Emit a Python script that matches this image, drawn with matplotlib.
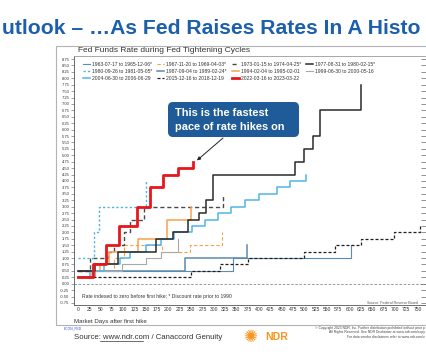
import matplotlib
matplotlib.use('Agg')
import numpy as np
import matplotlib.pyplot as plt
from matplotlib.patches import Rectangle, FancyBboxPatch
from matplotlib.lines import Line2D

plt.rcParams['font.family'] = ['Liberation Sans', 'DejaVu Sans']

# ---------------- data (market days after first hike, indexed rate) ----------------
labels = ["1963-07-17 to 1965-12-06*", "1967-11-20 to 1969-04-03*",
          "1973-01-15 to 1974-04-25*", "1977-08-31 to 1980-02-15*",
          "1980-09-26 to 1981-05-05*", "1987-09-04 to 1989-02-24*",
          "1994-02-04 to 1995-02-01", "1999-06-30 to 2000-05-16",
          "2004-06-30 to 2006-06-29", "2015-12-16 to 2018-12-19",
          "2022-03-16 to 2023-03-22"]

days_1963 = [0, 343, 604]
rate_1963 = [0.5, 1.0, 1.5]
days_1967 = [0, 80, 103, 186, 248, 318]
rate_1967 = [0.5, 1.0, 1.5, 1.25, 1.5, 2.0]
days_1973 = [0, 28, 67, 81, 102, 116, 146, 321]
rate_1973 = [0.5, 1.0, 1.25, 1.5, 2.0, 2.5, 3.0, 3.5]
days_1977 = [0, 39, 88, 173, 210, 244, 267, 284, 299, 479, 500, 520, 535, 625]
rate_1977 = [0.5, 0.75, 1.25, 1.75, 2.0, 2.5, 2.75, 3.25, 4.25, 4.75, 5.25, 5.75, 6.75, 7.75]
days_1980 = [0, 35, 48, 151]
rate_1980 = [1.0, 2.0, 3.0, 4.0]
days_1987 = [0, 236, 373]
rate_1987 = [0.5, 1.0, 1.5]
days_1994 = [0, 31, 49, 69, 133, 196, 250]
rate_1994 = [0.25, 0.5, 0.75, 1.25, 1.75, 2.5, 3.0]
days_1999 = [0, 38, 97, 150, 183, 222]
rate_1999 = [0.25, 0.5, 0.75, 1.0, 1.25, 1.75]
days_2004 = [0, 28, 57, 93, 116, 150, 183, 212, 253, 280, 309, 339, 368, 400, 439, 469, 504]
rate_2004 = [0.25, 0.5, 0.75, 1.0, 1.25, 1.5, 1.75, 2.0, 2.25, 2.5, 2.75, 3.0, 3.25,
             3.5, 3.75, 4.0, 4.25]
days_2015 = [0, 251, 313, 375, 500, 567, 625, 698, 755]
rate_2015 = [0.25, 0.5, 0.75, 1.0, 1.25, 1.5, 1.75, 2.0, 2.25]
days_2022 = [0, 34, 63, 91, 130, 160, 189, 221, 255]
rate_2022 = [0.25, 0.75, 1.5, 2.25, 3.0, 3.75, 4.25, 4.5, 4.75]

x_ticks = list(range(0, 751, 25))
y_ticks = list(np.arange(-0.75, 8.76, 0.25))

series = {
    labels[0]: (days_1963, rate_1963),
    labels[1]: (days_1967, rate_1967),
    labels[2]: (days_1973, rate_1973),
    labels[3]: (days_1977, rate_1977),
    labels[4]: (days_1980, rate_1980),
    labels[5]: (days_1987, rate_1987),
    labels[6]: (days_1994, rate_1994),
    labels[7]: (days_1999, rate_1999),
    labels[8]: (days_2004, rate_2004),
    labels[9]: (days_2015, rate_2015),
    labels[10]: (days_2022, rate_2022),
}

styles = {
    labels[0]: dict(color='#5a8db3', lw=0.8, ls='-', z=2),
    labels[1]: dict(color='#f5a04a', lw=0.8, ls=(0, (3, 2)), z=2),
    labels[2]: dict(color='#4a4a4a', lw=1.0, ls=(0, (3, 2)), z=3),
    labels[3]: dict(color='#2a2a2a', lw=1.1, ls='-', z=6),
    labels[4]: dict(color='#4db3e6', lw=1.0, ls=(0, (1.6, 1.6)), z=3),
    labels[5]: dict(color='#5b8aad', lw=1.1, ls='-', z=2),
    labels[6]: dict(color='#f7a14e', lw=1.1, ls='-', z=4),
    labels[7]: dict(color='#a9a9a9', lw=0.8, ls='-', z=3),
    labels[8]: dict(color='#4fb5ea', lw=1.1, ls='-', z=5),
    labels[9]: dict(color='#1e1e1e', lw=0.9, ls=(0, (2.4, 1.6)), z=4),
    labels[10]: dict(color='#e8161c', lw=2.0, ls='-', z=8),
}

W, H = 426, 356
def fx(px):
    return px / W
def fy(py):
    return 1 - py / H

fig = plt.figure(figsize=(W / 100, H / 100), dpi=100)
fig.patch.set_facecolor('white')

# slide title (visible part of the cropped slide heading)
fig.text(fx(1.5), fy(33.5), "utlook \u2013 \u2026As Fed Raises Rates In A Histo",
         fontsize=15.2, fontweight='bold', color='#1b5fad', ha='left', va='baseline')

# chart frame
fig.patches.append(Rectangle((fx(56), fy(325)), 1.2, fy(45.7) - fy(325),
                             transform=fig.transFigure, fill=False,
                             edgecolor='#b3b3b3', lw=0.8, zorder=0))
fig.text(fx(78), fy(51), "Fed Funds Rate during Fed Tightening Cycles",
         fontsize=6, color='#333333', ha='left', va='center')

ax = fig.add_axes([fx(74), fy(305), fx(427) - fx(74), fy(55.7) - fy(305)])
ax.set_xlim(-8.2, 770.6)
ax.set_ylim(-0.83, 8.88)

handles = {}
for lab, (d, r) in series.items():
    st = styles[lab]
    ln, = ax.step(d, r, where='post', color=st['color'], lw=st['lw'],
                  ls=st['ls'], zorder=st['z'], label=lab)
    handles[lab] = ln

ax.axhline(0, color='#8a8a8a', lw=0.6, ls=(0, (3, 2)), zorder=1)

ax.spines['right'].set_visible(False)
ax.spines['top'].set_color('#9a9a9a')
ax.spines['top'].set_linewidth(0.6)
ax.spines['left'].set_color('#555555')
ax.spines['left'].set_linewidth(0.6)
ax.spines['bottom'].set_color('#555555')
ax.spines['bottom'].set_linewidth(0.6)

ax.set_yticks(y_ticks)
ax.set_yticklabels([f"{v:.2f}" for v in y_ticks])
ax.tick_params(axis='y', direction='out', length=2, width=0.4, colors='#555555',
               labelsize=3.0, pad=1.2, labelcolor='#333333')
ax.set_xticks(x_ticks)
ax.set_xticklabels([str(v) for v in x_ticks])
ax.tick_params(axis='x', length=0, labelsize=3.6, pad=1.2, labelcolor='#333333')

axr = ax.twinx()
axr.set_ylim(ax.get_ylim())
axr.set_yticks(y_ticks)
axr.tick_params(axis='y', direction='in', length=4, width=0.5, colors='#666666',
                labelright=False)
for s in axr.spines.values():
    s.set_visible(False)

# legend (row-wise ordering in 4 columns)
order = [0, 4, 8, 1, 5, 9, 2, 6, 10, 3, 7]
leg = ax.legend([handles[labels[i]] for i in order], [labels[i] for i in order],
                ncol=4, loc='upper left', bbox_to_anchor=(fx(83), fy(61.5)),
                bbox_transform=fig.transFigure, frameon=False, fontsize=3.6,
                handlelength=1.4, handletextpad=0.45, columnspacing=0.9,
                labelspacing=0.42, borderpad=0, borderaxespad=0)
for t in leg.get_texts():
    t.set_color('#333333')

fig.text(fx(81.5), fy(296.7),
         "Rate indexed to zero before first hike; * Discount rate prior to 1990",
         fontsize=3.6, color='#333333', ha='left', va='center')
fig.text(fx(367), fy(303), "Source: Federal Reserve Board", fontsize=2.6,
         color='#555555', ha='left', va='center')
fig.text(fx(74), fy(321), "Market Days after first hike", fontsize=4.4,
         color='#333333', ha='left', va='center')

# callout
fig.patches.append(FancyBboxPatch((1.68, (H - 137) / 100), 1.31, 0.35,
                                  boxstyle='round,pad=0,rounding_size=0.05',
                                  transform=fig.dpi_scale_trans,
                                  facecolor='#1f5b98', edgecolor='none', zorder=10))
fig.text(fx(175), fy(112.7), "This is the fastest", fontsize=7.9, fontweight='bold',
         color='white', ha='left', va='center', zorder=11)
fig.text(fx(175), fy(126.7), "pace of rate hikes on", fontsize=7.9, fontweight='bold',
         color='white', ha='left', va='center', zorder=11)
ax.annotate("", xy=(263, 4.8), xycoords='data', xytext=(223, H - 138),
            textcoords='figure pixels',
            arrowprops=dict(arrowstyle='-|>', lw=0.7, color='#222222',
                            mutation_scale=5, shrinkA=0, shrinkB=0), zorder=12)

# footer
fig.text(fx(64), fy(328), "ECON_FED", fontsize=2.4, color='#3355cc',
         ha='left', va='center')
fig.text(fx(74), fy(337.5), "Source: www.ndr.com / Canaccord Genuity", fontsize=5.6,
         color='#333333', ha='left', va='center')
fig.lines.append(Line2D([fx(99.5), fx(142.5)], [fy(340.8), fy(340.8)],
                        transform=fig.transFigure, color='#333333', lw=0.5))
fig.text(fx(250), fy(337), "\u273a", fontsize=12, color='#f7941d', ha='center',
         va='center', family='DejaVu Sans')
fig.text(fx(265), fy(336.5), "NDR", fontsize=7.6, fontweight='bold', color='#f7941d',
         ha='left', va='center')
fig.text(fx(425), fy(328), "\u00a9 Copyright 2023 NDR, Inc. Further distribution prohibited without prior p",
         fontsize=2.4, color='#444444', ha='right', va='center')
fig.text(fx(425), fy(332.5), "All Rights Reserved. See NDR Disclaimer at www.ndr.com/copy",
         fontsize=2.4, color='#444444', ha='right', va='center')
fig.text(fx(425), fy(337), "For data vendor disclaimers refer to www.ndr.com/v",
         fontsize=2.4, color='#444444', ha='right', va='center')

fig.savefig('out.png', dpi=100, facecolor='white')
